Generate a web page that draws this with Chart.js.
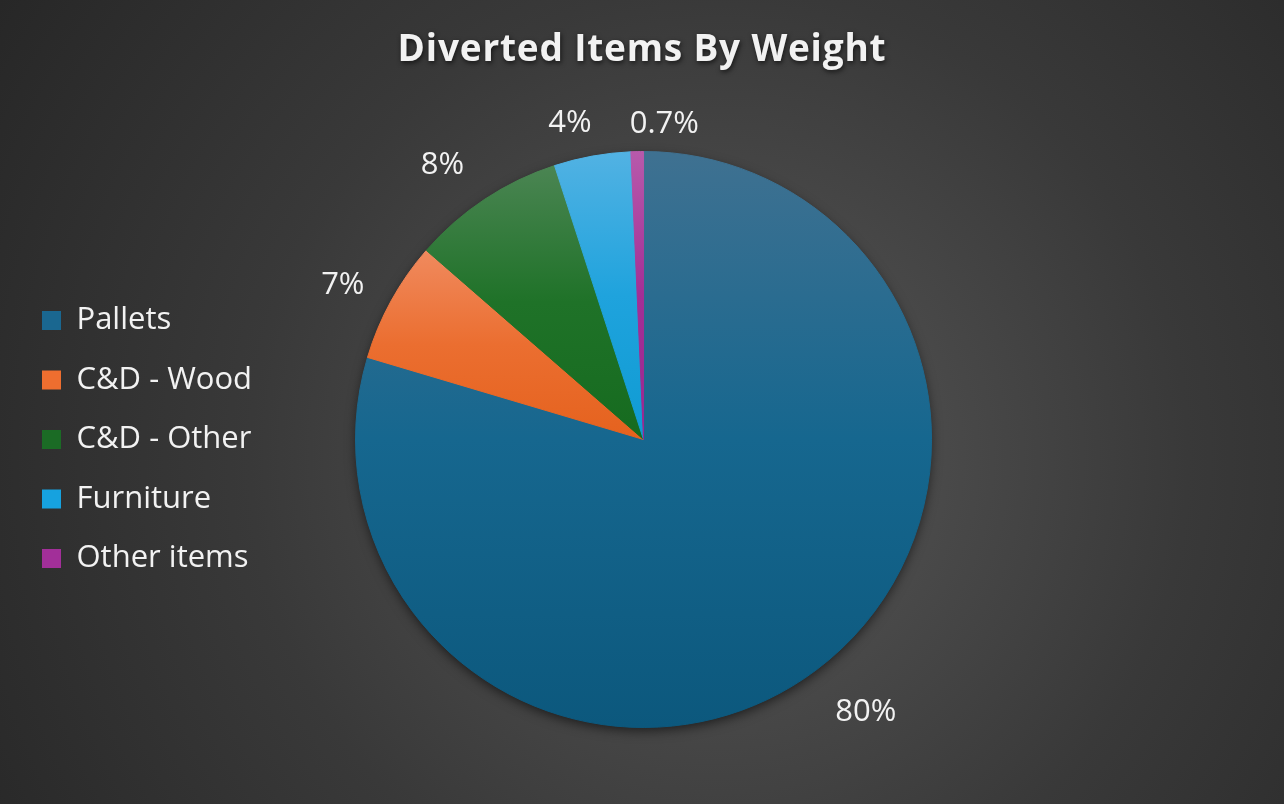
<!DOCTYPE html>
<html>
<head>
<meta charset="utf-8">
<script src="https://cdn.jsdelivr.net/npm/chart.js@4/dist/chart.umd.min.js"></script>
<style>
html,body{margin:0;padding:0;background:#262626;}
#wrap{width:1284px;height:804px;position:relative;
  background:radial-gradient(circle farthest-corner at 56% 57%, #515151 0%, #4a4a4a 25%, #393939 55%, #272727 100%);}
canvas{display:block;}
</style>
</head>
<body>
<div id="wrap"><canvas id="c" width="1284" height="804"></canvas></div>
<script>
// ---- data ----
const categories = ['Pallets', 'C&D - Wood', 'C&D - Other', 'Furniture', 'Other items'];
const values = [79.6, 6.8, 8.6, 4.3, 0.7];
const pctLabels = ['80%', '7%', '8%', '4%', '0.7%'];
const chartTitle = 'Diverted Items By Weight';

// ---- styles ----
const sliceTop    = ['#3f7191', '#f08a5e', '#4b8553', '#52b2e3', '#b75aab'];
const sliceMid    = ['#16678f', '#eb6e30', '#1f7228', '#1fa3dd', '#a32f96'];
const sliceBottom = ['#0c587d', '#e5621e', '#166b1f', '#0f9bd3', '#9a2890'];
const legendColors = ['#1a6790', '#ee6e2f', '#1b6b25', '#16a2df', '#a22f99'];
const FONT = "'Open Sans', 'Noto Sans', sans-serif";

function sliceGradient(chart, i) {
  const a = chart.chartArea;
  if (!a || i === undefined) return sliceMid[i] || sliceMid[0];
  const cx = (a.left + a.right) / 2, cy = (a.top + a.bottom) / 2;
  const r = Math.min(a.width, a.height) / 2;
  const total = values.reduce((s, v) => s + v, 0);
  let start = -Math.PI / 2;
  for (let k = 0; k < i; k++) start += values[k] / total * 2 * Math.PI;
  const end = start + values[i] / total * 2 * Math.PI;
  const ys = [cy, cy + r * Math.sin(start), cy + r * Math.sin(end)];
  for (const ang of [-Math.PI / 2, Math.PI / 2, 3 * Math.PI / 2]) {
    if (ang >= start && ang <= end) ys.push(cy + r * Math.sin(ang));
  }
  const top = Math.min(...ys), bot = Math.max(...ys);
  const g = chart.ctx.createLinearGradient(0, top, 0, bot);
  g.addColorStop(0, sliceTop[i]);
  g.addColorStop(0.5, sliceMid[i]);
  g.addColorStop(1, sliceBottom[i]);
  return g;
}

const titleStyle = {
  id: 'titleStyle',
  beforeDraw(chart) {
    const tb = chart.titleBlock;
    if (tb && !tb._patched) {
      const orig = tb.draw.bind(tb);
      tb.draw = function (area) {
        const c = this.ctx;
        c.save();
        // centre the title on the whole canvas
        c.translate(chart.width / 2 - (this.left + this.right) / 2, 0);
        c.letterSpacing = '0.8px';
        c.shadowColor = 'rgba(0,0,0,0.65)';
        c.shadowBlur = 5;
        c.shadowOffsetX = 1;
        c.shadowOffsetY = 2;
        orig(area);
        c.restore();
      };
      tb._patched = true;
    }
  }
};

const pieShadow = {
  id: 'pieShadow',
  beforeDatasetsDraw(chart) {
    const arc = chart.getDatasetMeta(0).data[0];
    if (!arc) return;
    const ctx = chart.ctx;
    ctx.save();
    ctx.shadowColor = 'rgba(0,0,0,0.6)';
    ctx.shadowBlur = 12;
    ctx.shadowOffsetY = 4;
    ctx.fillStyle = '#1a1a1a';
    ctx.beginPath();
    ctx.arc(arc.x, arc.y, arc.outerRadius - 1, 0, 2 * Math.PI);
    ctx.fill();
    ctx.restore();
  }
};

const outLabels = {
  id: 'outLabels',
  afterDatasetsDraw(chart, args, opts) {
    const ctx = chart.ctx;
    const meta = chart.getDatasetMeta(0);
    ctx.save();
    ctx.font = opts.size + 'px ' + FONT;
    ctx.fillStyle = opts.color;
    ctx.textAlign = 'center';
    ctx.textBaseline = 'middle';
    meta.data.forEach((arc, i) => {
      const p = arc.getProps(['x', 'y', 'startAngle', 'endAngle', 'outerRadius']);
      const mid = (p.startAngle + p.endAngle) / 2;
      const dx = Math.cos(mid), dy = Math.sin(mid);
      const text = pctLabels[i];
      const w = ctx.measureText(text).width, h = opts.size * 0.75;
      const ext = Math.abs(dx) * w / 2 + Math.abs(dy) * h / 2;
      const d = p.outerRadius + opts.gap + ext;
      const n = (opts.nudge && opts.nudge[i]) || [0, 0];
      ctx.fillText(text, p.x + dx * d + n[0], p.y + dy * d + n[1]);
    });
    ctx.restore();
  }
};

new Chart(document.getElementById('c'), {
  type: 'pie',
  data: {
    labels: categories,
    datasets: [{
      data: values,
      backgroundColor: (c) => sliceGradient(c.chart, c.dataIndex),
      borderColor: (c) => sliceGradient(c.chart, c.dataIndex),
      borderWidth: 1,
      hoverOffset: 0
    }]
  },
  options: {
    responsive: false,
    animation: false,
    devicePixelRatio: 1,
    layout: { padding: { top: 0, bottom: 76, left: 13.5, right: 259 } },
    plugins: {
      title: {
        display: true,
        text: chartTitle,
        color: '#f2f2f2',
        font: { family: FONT, size: 37, weight: 'bold', lineHeight: 1.2 },
        padding: { top: 28.5, bottom: 78.1 }
      },
      legend: {
        position: 'left',
        align: 'center',
        fullSize: false,
        labels: {
          color: '#f2f2f2',
          font: { family: FONT, size: 31 },
          boxWidth: 19,
          boxHeight: 19,
          padding: 28.5,
          generateLabels: () => categories.map((t, i) => ({
            text: t, fillStyle: legendColors[i], strokeStyle: legendColors[i],
            lineWidth: 0, hidden: false, index: i, fontColor: '#f2f2f2'
          }))
        }
      },
      tooltip: { enabled: false },
      outLabels: {
        size: 31, color: '#f2f2f2', gap: 26,
        nudge: { 0: [18, -1], 1: [-4, 9], 2: [-16, 6], 3: [-15, 8], 4: [28, 11] }
      }
    }
  },
  plugins: [titleStyle, pieShadow, outLabels]
});
</script>
</body>
</html>
